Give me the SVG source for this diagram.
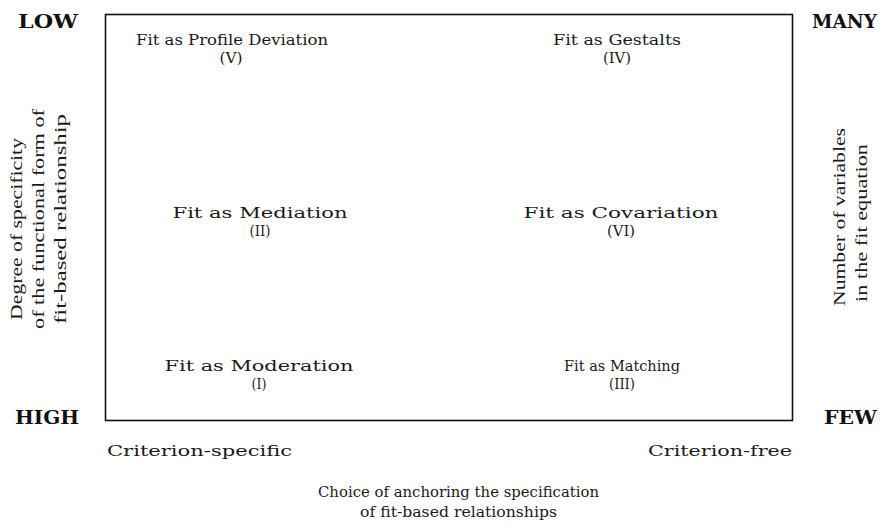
<svg xmlns="http://www.w3.org/2000/svg" width="890" height="524" viewBox="0 0 890 524">
<style>
.lbl{font-family:"DejaVu Serif","Liberation Serif",serif;font-size:15px;fill:#1a1a1a;text-anchor:middle}
.num{font-family:"DejaVu Serif","Liberation Serif",serif;font-size:15px;fill:#1a1a1a;text-anchor:middle}
.bold{font-family:"DejaVu Serif","Liberation Serif",serif;font-size:18px;font-weight:bold;fill:#111}
.ax{font-family:"DejaVu Serif","Liberation Serif",serif;font-size:15px;fill:#1a1a1a}
.vx{font-family:"Liberation Serif","DejaVu Serif",serif;font-size:17px;fill:#1a1a1a;text-anchor:middle}
</style>
<rect width="890" height="524" fill="#fff"/>
<g id="frame"><rect x="105.5" y="14.5" width="687" height="406" fill="none" stroke="#111" stroke-width="1.6"/></g>
<g id="corner-labels">
<text class="bold" x="18" y="28" textLength="60" lengthAdjust="spacingAndGlyphs">LOW</text>
<text class="bold" x="812" y="28" textLength="65" lengthAdjust="spacingAndGlyphs">MANY</text>
<text class="bold" x="15" y="424" textLength="64" lengthAdjust="spacingAndGlyphs">HIGH</text>
<text class="bold" x="824" y="424" textLength="53" lengthAdjust="spacingAndGlyphs">FEW</text>
</g>
<g id="n5"><text class="lbl" x="232" y="45" textLength="192" lengthAdjust="spacingAndGlyphs">Fit as Profile Deviation</text><text class="num" x="231" y="63" textLength="23" lengthAdjust="spacingAndGlyphs">(V)</text></g>
<g id="n4"><text class="lbl" x="617" y="45" textLength="128" lengthAdjust="spacingAndGlyphs">Fit as Gestalts</text><text class="num" x="617" y="63" textLength="28" lengthAdjust="spacingAndGlyphs">(IV)</text></g>
<g id="n2"><text class="lbl" x="260" y="218" textLength="175" lengthAdjust="spacingAndGlyphs">Fit as Mediation</text><text class="num" x="260" y="236" textLength="21" lengthAdjust="spacingAndGlyphs">(II)</text></g>
<g id="n6"><text class="lbl" x="621" y="218" textLength="195" lengthAdjust="spacingAndGlyphs">Fit as Covariation</text><text class="num" x="621" y="236" textLength="28" lengthAdjust="spacingAndGlyphs">(VI)</text></g>
<g id="n1"><text class="lbl" x="259" y="371" textLength="189" lengthAdjust="spacingAndGlyphs">Fit as Moderation</text><text class="num" x="259" y="389" textLength="15" lengthAdjust="spacingAndGlyphs">(I)</text></g>
<g id="n3"><text class="lbl" x="622" y="371" textLength="116" lengthAdjust="spacingAndGlyphs">Fit as Matching</text><text class="num" x="622" y="389" textLength="26" lengthAdjust="spacingAndGlyphs">(III)</text></g>
<g id="y-axis">
<text class="vx" transform="translate(22 229) rotate(-90)" textLength="182" lengthAdjust="spacingAndGlyphs">Degree of specificity</text>
<text class="vx" transform="translate(44 219) rotate(-90)" textLength="220" lengthAdjust="spacingAndGlyphs">of the functional form of</text>
<text class="vx" transform="translate(66 219) rotate(-90)" textLength="210" lengthAdjust="spacingAndGlyphs">fit-based relationship</text>
<text class="vx" transform="translate(845 217) rotate(-90)" textLength="178" lengthAdjust="spacingAndGlyphs">Number of variables</text>
<text class="vx" transform="translate(867 223) rotate(-90)" textLength="158" lengthAdjust="spacingAndGlyphs">in the fit equation</text>
</g>
<g id="x-axis">
<text class="ax" x="107" y="456" textLength="185" lengthAdjust="spacingAndGlyphs">Criterion-specific</text>
<text class="ax" x="648" y="456" textLength="144" lengthAdjust="spacingAndGlyphs">Criterion-free</text>
<text class="ax" x="318" y="497" textLength="281" lengthAdjust="spacingAndGlyphs">Choice of anchoring the specification</text>
<text class="ax" x="360" y="517" textLength="197" lengthAdjust="spacingAndGlyphs">of fit-based relationships</text>
</g>
</svg>
